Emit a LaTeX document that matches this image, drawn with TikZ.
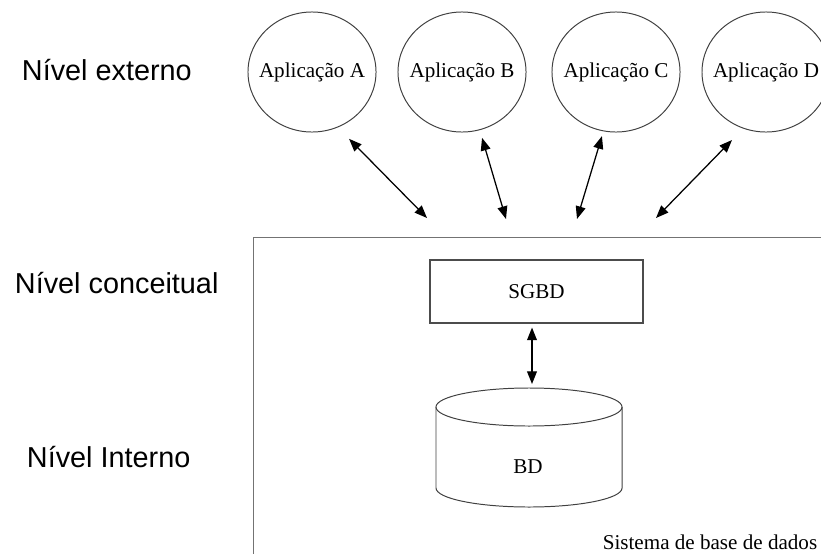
\documentclass[tikz,border=0pt]{standalone}
\usepackage{fontspec}
\setmainfont{Liberation Serif}
\newfontfamily\levelfont{Liberation Sans}
\usetikzlibrary{shapes.geometric,arrows.meta}
\newcommand{\twoway}[3][0pt]{
\draw[dblarrow, shorten <=#1] (#2) -- (#3);
}

\begin{document}
\begin{tikzpicture}[x=0.025cm, y=-0.025cm,
  level/.style={anchor=base west, font=\levelfont\fontsize{20.5}{24}\selectfont},
  app/.style={ellipse, draw=black!75, line width=0.7pt, minimum width=3.2cm, minimum height=3cm, inner sep=0pt, font=\fontsize{15}{18}\selectfont},
  dblarrow/.style={{Triangle[length=9pt,width=7pt]}-{Triangle[length=9pt,width=7pt]}, line width=0.9pt},
  dbline/.style={draw=black!75, line width=0.7pt},
  txt/.style={font=\fontsize{15}{18}\selectfont}]
\useasboundingbox (0,0) rectangle (821,553);
\clip (0,0) rectangle (821,553);
\node[level] at (17,80)  (ext)  {Nível externo};
\node[level] at (10,293) (conc) {Nível conceitual};
\node[level] at (22,467) (int)  {Nível Interno};
\node[app] at (312,72) (appA) {\makebox[0pt]{Aplicação A}};
\node[app] at (462,72) (appB) {\makebox[0pt]{Aplicação B}};
\node[app] at (616,72) (appC) {\makebox[0pt]{Aplicação C}};
\node[app] at (766,72) (appD) {\makebox[0pt]{Aplicação D}};
\node[draw=black!55, line width=0.9pt, anchor=north west, minimum width=16.25cm, minimum height=10cm] at (253,237) (dbs) {};
\coordinate (inA) at (427,218);
\coordinate (inB) at (506,219);
\coordinate (inC) at (577,219);
\coordinate (inD) at (656,218);
\twoway[0.4cm]{appA.-65}{inA}
\twoway[0.2cm]{appB.-73}{inB}
\twoway[0.125cm]{appC.-102}{inC}
\twoway[0.4cm]{appD.-112}{inD}
\node[draw=black!70, line width=0.8pt, minimum width=5.325cm, minimum height=1.575cm, txt] at (536.5,291.5) (sgbd) {SGBD};
\draw[dbline] (436,407) -- (436,488) arc[start angle=180, end angle=360, x radius=2.325cm, y radius=0.475cm] -- (622,407);
\draw[dbline] (529,407) ellipse [x radius=2.325cm, y radius=0.475cm];
\node[txt] at (528,467) (bd) {BD};
\coordinate (dbtop) at (532,384);
\twoway[0.1cm]{dbtop |- sgbd.south}{dbtop}
\node[txt] at (710,542) (sysname) {Sistema de base de dados};
\end{tikzpicture}
\end{document}
